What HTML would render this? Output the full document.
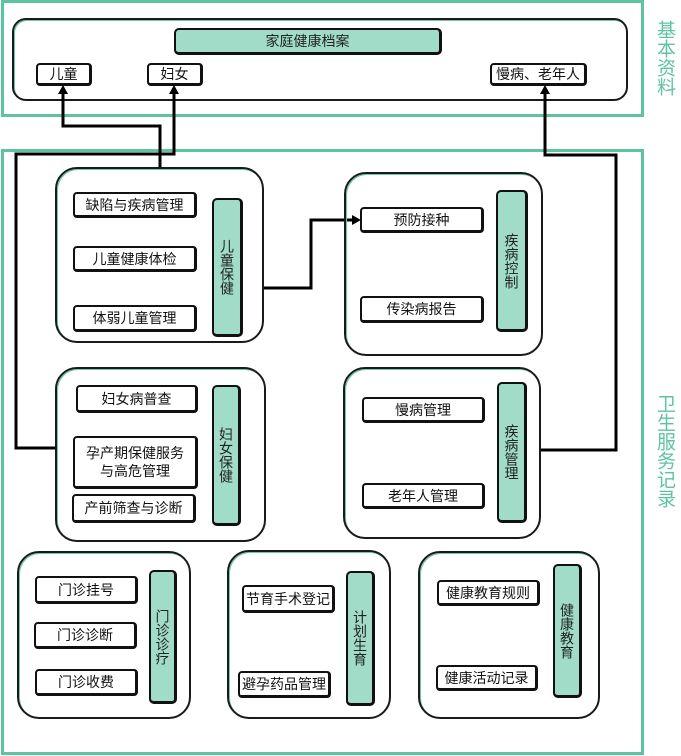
<!DOCTYPE html>
<html><head><meta charset="utf-8"><style>
body{margin:0;width:681px;height:756px;background:#fff;position:relative;overflow:hidden;font-family:"Liberation Sans","Noto Sans CJK SC",sans-serif;}
div{position:absolute;box-sizing:border-box;}
.og{border:3px solid #5ec4a0;}
.g{border:2px solid #1a1a1a;border-radius:22px;box-shadow:1px 1px 0 #6cc9a8 inset;}
.i{border:2px solid #111;border-right-width:3px;border-bottom-width:3px;border-radius:4px;background:#fff;display:flex;align-items:center;justify-content:center;font-size:14px;color:#111;text-align:center;line-height:18px;}
.t{border:2px solid #111;border-right-width:3px;border-bottom-width:3px;border-radius:5px;background:#a0dcc8;display:flex;align-items:center;justify-content:center;font-size:14px;color:#222;writing-mode:vertical-rl;letter-spacing:0;line-height:16px;}
.side{color:#5ec4a0;font-size:19px;writing-mode:vertical-rl;line-height:20px;}
</style></head><body>
<div class="og" style="left:1px;top:0;width:643px;height:117px"></div>
<div class="og" style="left:1px;top:149px;width:643px;height:606px"></div>
<div class="side" style="left:654px;top:20px">基本资料</div>
<div class="side" style="left:654px;top:394px">卫生服务记录</div>

<div class="g" style="left:12px;top:18px;width:616px;height:83px;border-radius:14px"></div>
<div class="t" style="left:174px;top:28px;width:268px;height:27px;writing-mode:horizontal-tb">家庭健康档案</div>
<div class="i" style="left:36px;top:63px;width:56px;height:23px">儿童</div>
<div class="i" style="left:147px;top:63px;width:56px;height:23px">妇女</div>
<div class="i" style="left:490px;top:63px;width:97px;height:23px">慢病、老年人</div>

<svg style="position:absolute;left:0;top:0" width="681" height="756">
<g fill="none" stroke="#000" stroke-width="3">
<polyline points="63,92 63,126 160,126 160,168"/>
<polyline points="174,92 174,154 16,154 16,448 55,448"/>
<polyline points="545,92 545,155 616,155 616,450 540,450"/>
<polyline points="263,288 311,288 311,220 354,220"/>
</g>
<g fill="#000">
<polygon points="63,85 58,94 68,94"/>
<polygon points="174,85 169,94 179,94"/>
<polygon points="545,85 540,94 550,94"/>
<polygon points="361,220 352,215 352,225"/>
</g>
</svg>

<div class="g" style="left:55px;top:167px;width:209px;height:176px"></div>
<div class="i" style="left:73px;top:192px;width:124px;height:26px">缺陷与疾病管理</div>
<div class="i" style="left:73px;top:246px;width:124px;height:26px">儿童健康体检</div>
<div class="i" style="left:73px;top:305px;width:124px;height:27px">体弱儿童管理</div>
<div class="t" style="left:212px;top:198px;width:31px;height:139px">儿童保健</div>

<div class="g" style="left:344px;top:172px;width:199px;height:184px"></div>
<div class="i" style="left:360px;top:207px;width:124px;height:26px">预防接种</div>
<div class="i" style="left:360px;top:296px;width:124px;height:27px">传染病报告</div>
<div class="t" style="left:496px;top:190px;width:32px;height:142px">疾病控制</div>

<div class="g" style="left:55px;top:367px;width:211px;height:175px"></div>
<div class="i" style="left:76px;top:385px;width:122px;height:28px">妇女病普查</div>
<div class="i" style="left:73px;top:436px;width:125px;height:53px">孕产期保健服务<br>与高危管理</div>
<div class="i" style="left:72px;top:494px;width:124px;height:29px">产前筛查与诊断</div>
<div class="t" style="left:212px;top:385px;width:29px;height:141px">妇女保健</div>

<div class="g" style="left:343px;top:367px;width:198px;height:172px"></div>
<div class="i" style="left:362px;top:397px;width:123px;height:26px">慢病管理</div>
<div class="i" style="left:362px;top:483px;width:123px;height:26px">老年人管理</div>
<div class="t" style="left:497px;top:382px;width:30px;height:141px">疾病管理</div>

<div class="g" style="left:17px;top:551px;width:174px;height:168px"></div>
<div class="i" style="left:35px;top:576px;width:103px;height:28px">门诊挂号</div>
<div class="i" style="left:34px;top:622px;width:103px;height:27px">门诊诊断</div>
<div class="i" style="left:35px;top:669px;width:103px;height:27px">门诊收费</div>
<div class="t" style="left:149px;top:570px;width:28px;height:134px">门诊诊疗</div>

<div class="g" style="left:227px;top:550px;width:164px;height:169px"></div>
<div class="i" style="left:242px;top:585px;width:93px;height:28px">节育手术登记</div>
<div class="i" style="left:238px;top:671px;width:93px;height:27px">避孕药品管理</div>
<div class="t" style="left:346px;top:571px;width:29px;height:135px">计划生育</div>

<div class="g" style="left:418px;top:551px;width:182px;height:168px"></div>
<div class="i" style="left:437px;top:580px;width:103px;height:26px">健康教育规则</div>
<div class="i" style="left:436px;top:665px;width:102px;height:26px">健康活动记录</div>
<div class="t" style="left:553px;top:564px;width:29px;height:134px">健康教育</div>
</body></html>
